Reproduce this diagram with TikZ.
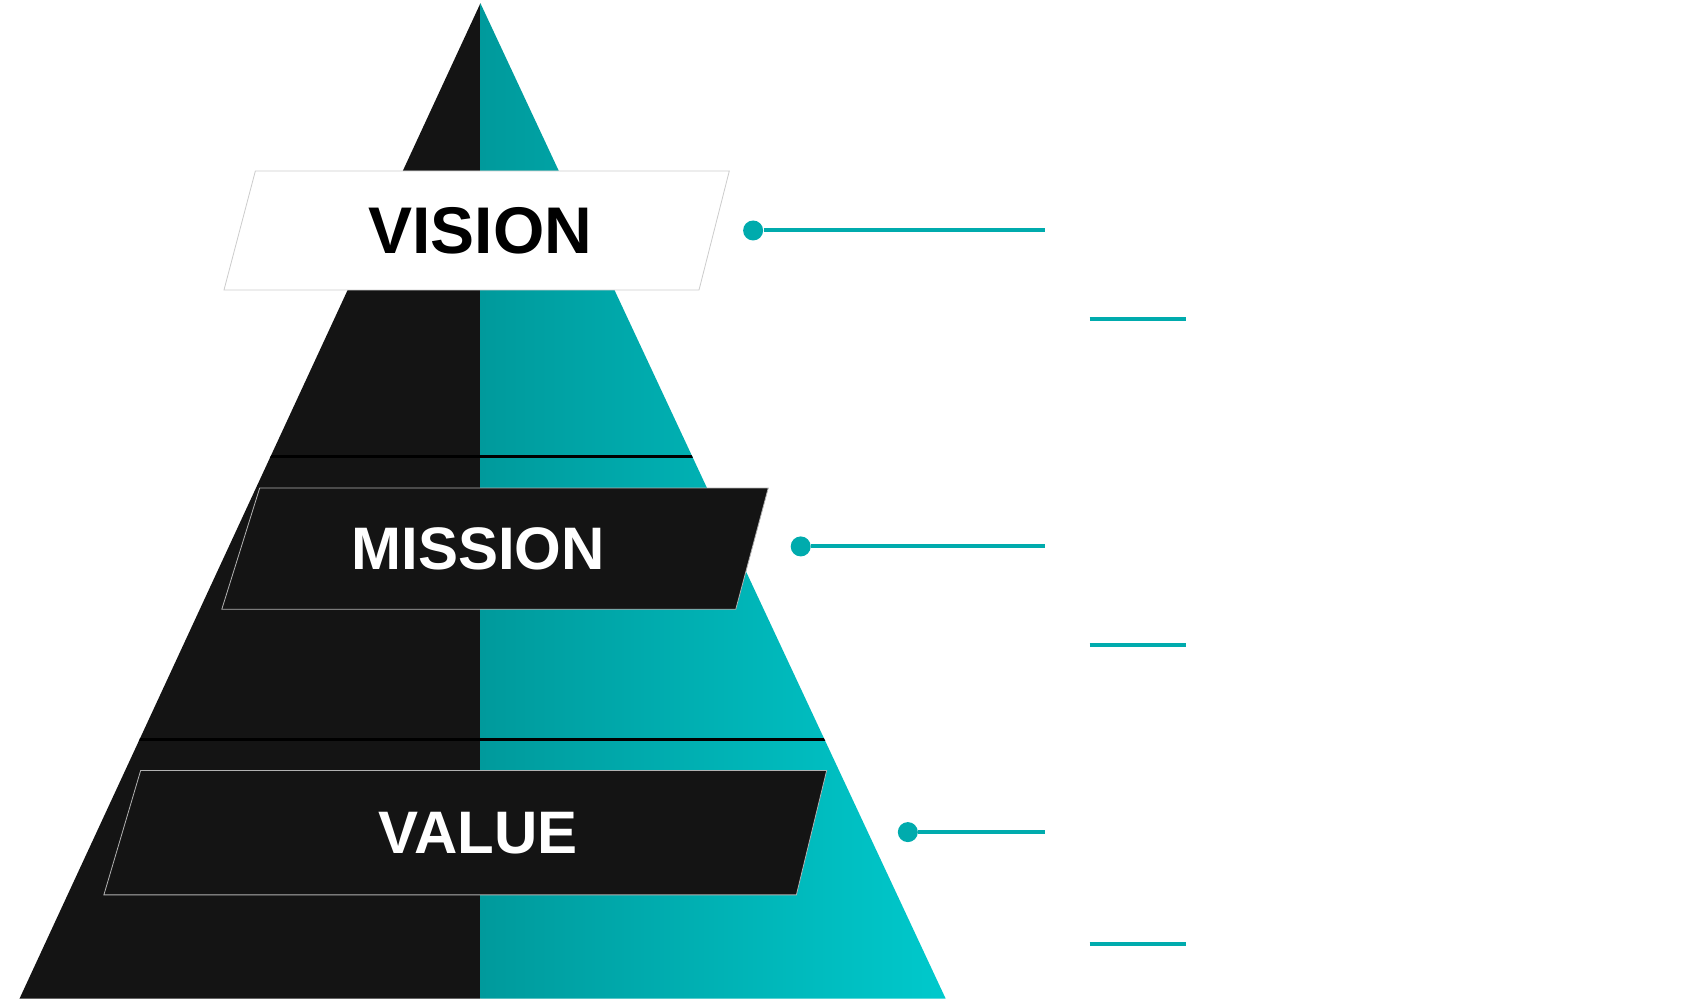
\documentclass[tikz,border=0pt]{standalone}
\usepackage{fontspec}
\setmainfont{Liberation Sans}
\usetikzlibrary{arrows.meta}
\definecolor{tealdark}{HTML}{009A9C}
\definecolor{teallight}{HTML}{00C9CC}
\definecolor{pyrblack}{HTML}{141414}
\begin{document}
\begin{tikzpicture}[x=0.541pt, y=-0.541pt,
    lbl/.style={font=\bfseries\fontsize{30}{30}\selectfont},
    link/.style={draw=teallight!85!black, line width=2pt},
    dot/.style={circle, fill=teallight!85!black, inner sep=0pt, minimum size=10pt}]
    \useasboundingbox (0,0) rectangle (1560,931);
    % pyramid halves
    \fill[pyrblack] (444,3) -- (18,923) -- (444,923) -- cycle;
    \shade[left color=tealdark, right color=teallight] (444,3) -- (874,923) -- (444,923) -- cycle;
    \begin{scope}
        \clip (444,3) -- (18,923) -- (874,923) -- cycle;
        \draw[black, line width=1.5pt] (0,422) -- (900,422);
        \draw[black, line width=1.5pt] (0,683) -- (900,683);
    \end{scope}
    % labels
    \fill[white, draw=gray!40] (236,158) -- (674,158) -- (646,268) -- (207,268) -- cycle;
    \node[lbl, text=black] (vision) at (444,213) {\fontsize{33}{33}\selectfont VISION};
    \fill[black!92, draw=gray!60] (240,451) -- (710,451) -- (680,563) -- (205,563) -- cycle;
    \node[lbl, text=white] (mission) at (442,507) {MISSION};
    \fill[black!92, draw=gray!60] (130,712) -- (764,712) -- (736,827) -- (96,827) -- cycle;
    \node[lbl, text=white] (value) at (442,770) {VALUE};
    % connectors
    \node[dot] (d1) at (696,213) {};
    \node[dot] (d2) at (740,505) {};
    \node[dot] (d3) at (839,769) {};
    \coordinate (e1) at (966,213);
    \coordinate (e2) at (966,505);
    \coordinate (e3) at (966,769);
    \draw[link] (d1) -- (e1);
    \draw[link] (d2) -- (e2);
    \draw[link] (d3) -- (e3);
    % short rules
    \coordinate (s1) at (1007,295); \coordinate (t1) at (1096,295);
    \coordinate (s2) at (1007,596); \coordinate (t2) at (1096,596);
    \coordinate (s3) at (1007,872); \coordinate (t3) at (1096,872);
    \draw[link] (s1) -- (t1);
    \draw[link] (s2) -- (t2);
    \draw[link] (s3) -- (t3);
\end{tikzpicture}
\end{document}
